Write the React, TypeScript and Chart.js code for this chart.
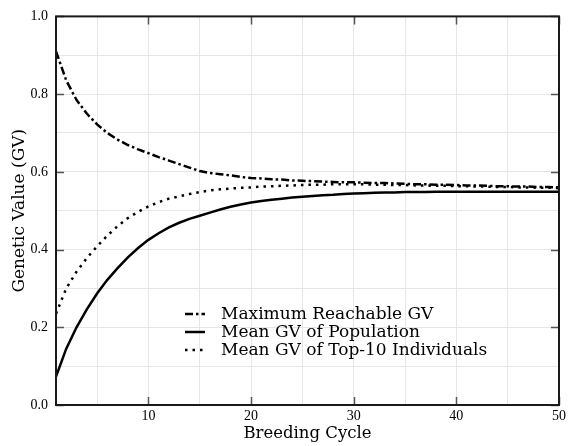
import React, { useEffect, useRef } from "react";
import { Chart, registerables } from "chart.js";

Chart.register(...registerables);

const cycles = [1,2,3,4,5,6,7,8,9,10,11,12,13,14,15,16,17,18,19,20,21,22,23,24,25,26,27,28,29,30,31,32,33,34,35,36,37,38,39,40,41,42,43,44,45,46,47,48,49,50];

const maxReachableGV = [0.910,0.835,0.785,0.750,0.722,0.700,0.683,0.669,0.658,0.648,0.638,0.629,0.620,0.611,0.602,0.597,0.594,0.591,0.587,0.584,0.583,0.581,0.580,0.578,0.577,0.576,0.575,0.574,0.573,0.573,0.572,0.571,0.571,0.570,0.569,0.568,0.568,0.567,0.567,0.566,0.565,0.565,0.564,0.563,0.563,0.562,0.562,0.561,0.561,0.560];

const meanPopulationGV = [0.073,0.145,0.200,0.246,0.287,0.322,0.352,0.380,0.404,0.425,0.442,0.457,0.469,0.479,0.487,0.495,0.503,0.510,0.516,0.521,0.525,0.528,0.531,0.534,0.536,0.538,0.540,0.541,0.543,0.544,0.545,0.546,0.547,0.547,0.548,0.548,0.548,0.549,0.549,0.549,0.549,0.549,0.549,0.549,0.549,0.549,0.549,0.549,0.549,0.549];

const meanTop10GV = [0.235,0.300,0.343,0.378,0.408,0.436,0.460,0.481,0.497,0.511,0.522,0.531,0.537,0.543,0.548,0.552,0.555,0.557,0.559,0.560,0.562,0.563,0.564,0.565,0.566,0.567,0.567,0.568,0.568,0.568,0.568,0.567,0.567,0.566,0.566,0.565,0.565,0.564,0.564,0.563,0.563,0.562,0.562,0.561,0.561,0.560,0.560,0.559,0.559,0.558];

const seriesLabels = ["Maximum Reachable GV", "Mean GV of Population", "Mean GV of Top-10 Individuals"];
const xTickLabels = [10, 20, 30, 40, 50];
const yTickLabels = [0, 0.2, 0.4, 0.6, 0.8, 1.0];

const TICK_FONT = "'Liberation Serif', serif";
const TEXT_FONT = "'DejaVu Serif', 'Liberation Serif', serif";

const frameAndLegend = {
  id: "frameAndLegend",
  afterDraw(chart: any) {
    const { ctx, chartArea: a, scales } = chart;
    const xs = scales.x, ys = scales.y;
    ctx.save();
    ctx.strokeStyle = "#555";
    ctx.lineWidth = 1.5;
    const tl = 8;
    ctx.beginPath();
    xTickLabels.forEach((v) => {
      const px = Math.round(xs.getPixelForValue(v)) + 0.5;
      ctx.moveTo(px, a.bottom); ctx.lineTo(px, a.bottom - tl);
      ctx.moveTo(px, a.top); ctx.lineTo(px, a.top + tl);
    });
    yTickLabels.forEach((v) => {
      const py = Math.round(ys.getPixelForValue(v)) + 0.5;
      ctx.moveTo(a.left, py); ctx.lineTo(a.left + tl, py);
      ctx.moveTo(a.right, py); ctx.lineTo(a.right - tl, py);
    });
    ctx.stroke();
    ctx.strokeStyle = "#1a1a1a";
    ctx.lineWidth = 2;
    ctx.strokeRect(a.left, a.top, a.right - a.left, a.bottom - a.top);
    const lx0 = 185, lx1 = 205, tx = 221;
    const rows = [314, 332, 350];
    ctx.font = "17px " + TEXT_FONT;
    ctx.textBaseline = "middle";
    ctx.textAlign = "left";
    chart.data.datasets.forEach((ds: any, i: number) => {
      ctx.strokeStyle = "#000";
      ctx.lineWidth = ds.borderWidth;
      ctx.setLineDash(ds.borderDash || []);
      ctx.beginPath();
      ctx.moveTo(lx0, rows[i]);
      ctx.lineTo(lx1, rows[i]);
      ctx.stroke();
      ctx.setLineDash([]);
      ctx.fillStyle = "#000";
      ctx.fillText(ds.label, tx, rows[i] + 1);
    });
    ctx.restore();
  },
};

export default function App() {
  const ref = useRef<HTMLCanvasElement>(null);
  useEffect(() => {
    document.body.style.margin = "0";
    const toPts = (arr: number[]) => cycles.map((c, i) => ({ x: c, y: arr[i] }));
    const chart = new Chart(ref.current!, {
      type: "line",
      data: {
        datasets: [
          { label: seriesLabels[0], data: toPts(maxReachableGV), borderColor: "#000", borderWidth: 2.5, borderDash: [8, 3, 2.5, 3], pointRadius: 0, fill: false },
          { label: seriesLabels[1], data: toPts(meanPopulationGV), borderColor: "#000", borderWidth: 2.5, pointRadius: 0, fill: false },
          { label: seriesLabels[2], data: toPts(meanTop10GV), borderColor: "#000", borderWidth: 2.5, borderDash: [2.5, 5], pointRadius: 0, fill: false },
        ],
      },
      options: {
        animation: false,
        responsive: true,
        maintainAspectRatio: false,
        layout: { padding: { top: 15, right: 8, left: 0, bottom: 0 } },
        plugins: { legend: { display: false }, tooltip: { enabled: false } },
        scales: {
          x: {
            type: "linear",
            min: 1,
            max: 50,
            afterFit: (s: any) => { s.height = 41; },
            grid: { color: "#e6e6e6", lineWidth: 1, drawTicks: false },
            border: { display: false },
            ticks: {
              stepSize: 5,
              autoSkip: false,
              maxRotation: 0,
              padding: 3,
              color: "#000",
              font: { family: TICK_FONT, size: 14 },
              callback: (v: any) => (xTickLabels.includes(Number(v)) ? String(v) : ""),
            },
            title: { display: true, text: "Breeding Cycle", color: "#000", font: { family: TEXT_FONT, size: 16.5 }, padding: { top: 0, bottom: 2 } },
          },
          y: {
            type: "linear",
            min: 0,
            max: 1,
            afterFit: (s: any) => { s.width = 56; },
            grid: { color: "#e6e6e6", lineWidth: 1, drawTicks: false },
            border: { display: false },
            ticks: {
              stepSize: 0.1,
              autoSkip: false,
              padding: 8,
              color: "#000",
              font: { family: TICK_FONT, size: 14 },
              callback: (v: any) => {
                const n = Math.round(Number(v) * 10);
                return n % 2 === 0 ? (n / 10).toFixed(1) : "";
              },
            },
            title: { display: true, text: "Genetic Value (GV)", color: "#000", font: { family: TEXT_FONT, size: 17 }, padding: { top: 9, bottom: 0 } },
          },
        },
      },
      plugins: [frameAndLegend],
    });
    return () => chart.destroy();
  }, []);
  return (
    <div style={{ position: "relative", width: "569px", height: "446px" }}>
      <canvas ref={ref} />
    </div>
  );
}
